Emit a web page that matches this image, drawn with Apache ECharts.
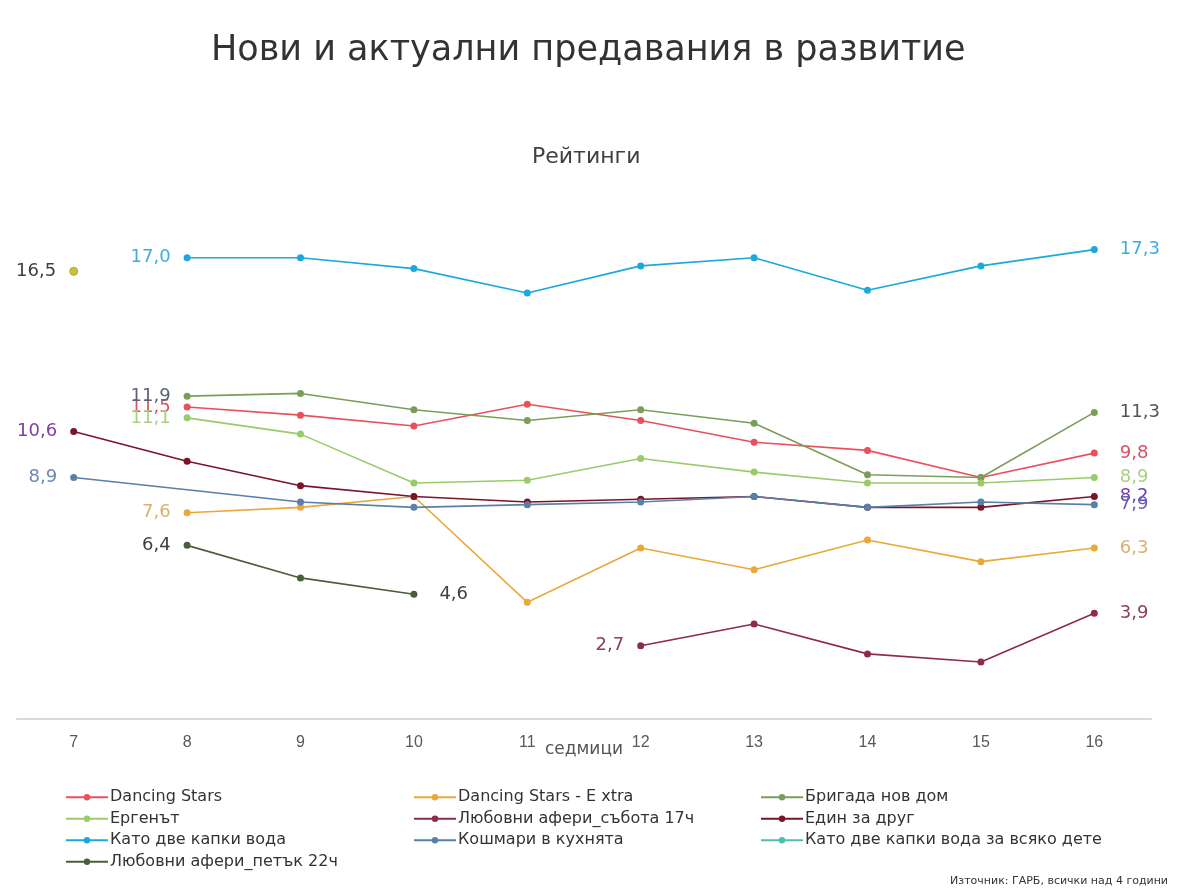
<!DOCTYPE html>
<html><head><meta charset="utf-8">
<script src="https://cdn.jsdelivr.net/npm/echarts@6/dist/echarts.min.js"></script>
<style>html,body{margin:0;padding:0;background:#fff}#c{width:1200px;height:896px}</style>
</head><body><div id="c"></div>
<script>
const weeks = ['7','8','9','10','11','12','13','14','15','16'];
const seriesNames = ['Dancing Stars','Dancing Stars - E xtra','Бригада нов дом','Ергенът','Любовни афери_събота 17ч','Един за друг','Като две капки вода','Кошмари в кухнята','Като две капки вода за всяко дете','Любовни афери_петък 22ч'];
const dancingStars   = [null, 11.5, 11.2, 10.8, 11.6, 11.0, 10.2, 9.9, 8.9, 9.8];
const dancingExtra   = [null, 7.6, 7.8, 8.2, 4.3, 6.3, 5.5, 6.6, 5.8, 6.3];
const brigada        = [null, 11.9, 12.0, 11.4, 11.0, 11.4, 10.9, 9.0, 8.9, 11.3];
const ergenat        = [null, 11.1, 10.5, 8.7, 8.8, 9.6, 9.1, 8.7, 8.7, 8.9];
const lubovniSabota  = [null, null, null, null, null, 2.7, 3.5, 2.4, 2.1, 3.9];
const edinZaDrug     = [10.6, 9.5, 8.6, 8.2, 8.0, 8.1, 8.2, 7.8, 7.8, 8.2];
const katoDve        = [null, 17.0, 17.0, 16.6, 15.7, 16.7, 17.0, 15.8, 16.7, 17.3];
const koshmari       = [8.9, null, 8.0, 7.8, 7.9, 8.0, 8.2, 7.8, 8.0, 7.9];
const katoDveDete    = [16.5, null, null, null, null, null, null, null, null, null];
const lubovniPetak   = [null, 6.4, 5.2, 4.6, null, null, null, null, null, null];
const values = [dancingStars, dancingExtra, brigada, ergenat, lubovniSabota, edinZaDrug, katoDve, koshmari, katoDveDete, lubovniPetak];

const colors = ['#e8505b','#eaa83a','#7a9e5a','#98cc6a','#8e2a4a','#7a1428','#1ba8dc','#5a7fa8','#4cc0b0','#4a5e3a'];
const startLabelColors = ['#e05060','#d8b070','#5a6478','#a8d080','#8a4060','#8040a0','#3aaee0','#6a88b0','#404040','#404040'];
const endLabelColors   = ['#d85060','#d8b070','#505560','#a8d080','#8a4060','#7040b0','#3aaee0','#6a60c0','#404040','#404040'];

const FONT = 'DejaVu Sans, Liberation Sans, Arial, sans-serif';
const fmt = p => p.value.toFixed(1).replace('.', ',');

function buildData(arr, i){
  let first = arr.findIndex(v => v !== null);
  let last = arr.length - 1 - [...arr].reverse().findIndex(v => v !== null);
  return arr.map((v, k) => {
    if (v === null) return null;
    const item = {value: v};
    if (i === 8) item.itemStyle = {color: '#c8c23a', borderColor: '#b0a830', borderWidth: 1};
    if (k === first) {
      item.label = {show: true, position: 'left', distance: 13, color: startLabelColors[i], formatter: fmt};
    } else if (k === last) {
      item.label = {show: true, position: 'right', distance: 22, color: endLabelColors[i], formatter: fmt};
    }
    return item;
  });
}

const series = seriesNames.map((name, i) => ({
  name, type: 'line', data: buildData(values[i], i),
  connectNulls: i === 7,
  symbol: 'circle', symbolSize: i === 8 ? 8 : 7,
  lineStyle: {width: 1.6, color: colors[i]},
  itemStyle: {color: colors[i]},
  label: {fontSize: 18, fontFamily: FONT},
  emphasis: {disabled: true},
  animation: false
}));

const legendCols = [
  ['Dancing Stars','Ергенът','Като две капки вода','Любовни афери_петък 22ч'],
  ['Dancing Stars - E xtra','Любовни афери_събота 17ч','Кошмари в кухнята'],
  ['Бригада нов дом','Един за друг','Като две капки вода за всяко дете']
];
const legendX = [65, 413, 760];

const chart = echarts.init(document.getElementById('c'));
chart.setOption({
  backgroundColor: '#fff',
  title: [
    {text: 'Нови и актуални предавания в развитие', left: 206, top: 28,
     textStyle: {fontSize: 35, fontWeight: 'normal', color: '#333', fontFamily: FONT}},
    {text: 'Рейтинги', left: 527, top: 141,
     textStyle: {fontSize: 22, fontWeight: 'normal', color: '#404040', fontFamily: FONT}}
  ],
  legend: legendCols.map((col, j) => ({
    data: col, orient: 'vertical', left: legendX[j], top: 788, itemGap: 3,
    itemWidth: 42, itemHeight: 8, selectedMode: false, padding: 0,
    textStyle: {fontSize: 16, color: '#333', fontFamily: FONT, padding: [0,0,0,-3], lineHeight: 18.5}
  })),
  grid: {left: 17, right: 49, top: 203.5, bottom: 177, containLabel: false},
  xAxis: {
    type: 'category', data: weeks, boundaryGap: true,
    name: 'седмици', nameLocation: 'middle', nameGap: 22, nameMoveOverlap: false,
    nameTextStyle: {fontSize: 17, color: '#555', fontFamily: FONT, verticalAlign: 'top'},
    axisLine: {lineStyle: {color: '#d9d9d9', width: 2}},
    axisTick: {show: false},
    axisLabel: {fontSize: 16, color: '#595959', margin: 16, fontFamily: 'Liberation Sans, Arial, sans-serif'}
  },
  yAxis: {type: 'value', min: 0, max: 19, show: false, splitLine: {show: false}},
  graphic: [{type: 'text', right: 32, top: 876,
    style: {text: 'Източник: ГАРБ, всички над 4 години', fontSize: 11, fill: '#333', fontFamily: FONT}}],
  series
});
</script></body></html>
